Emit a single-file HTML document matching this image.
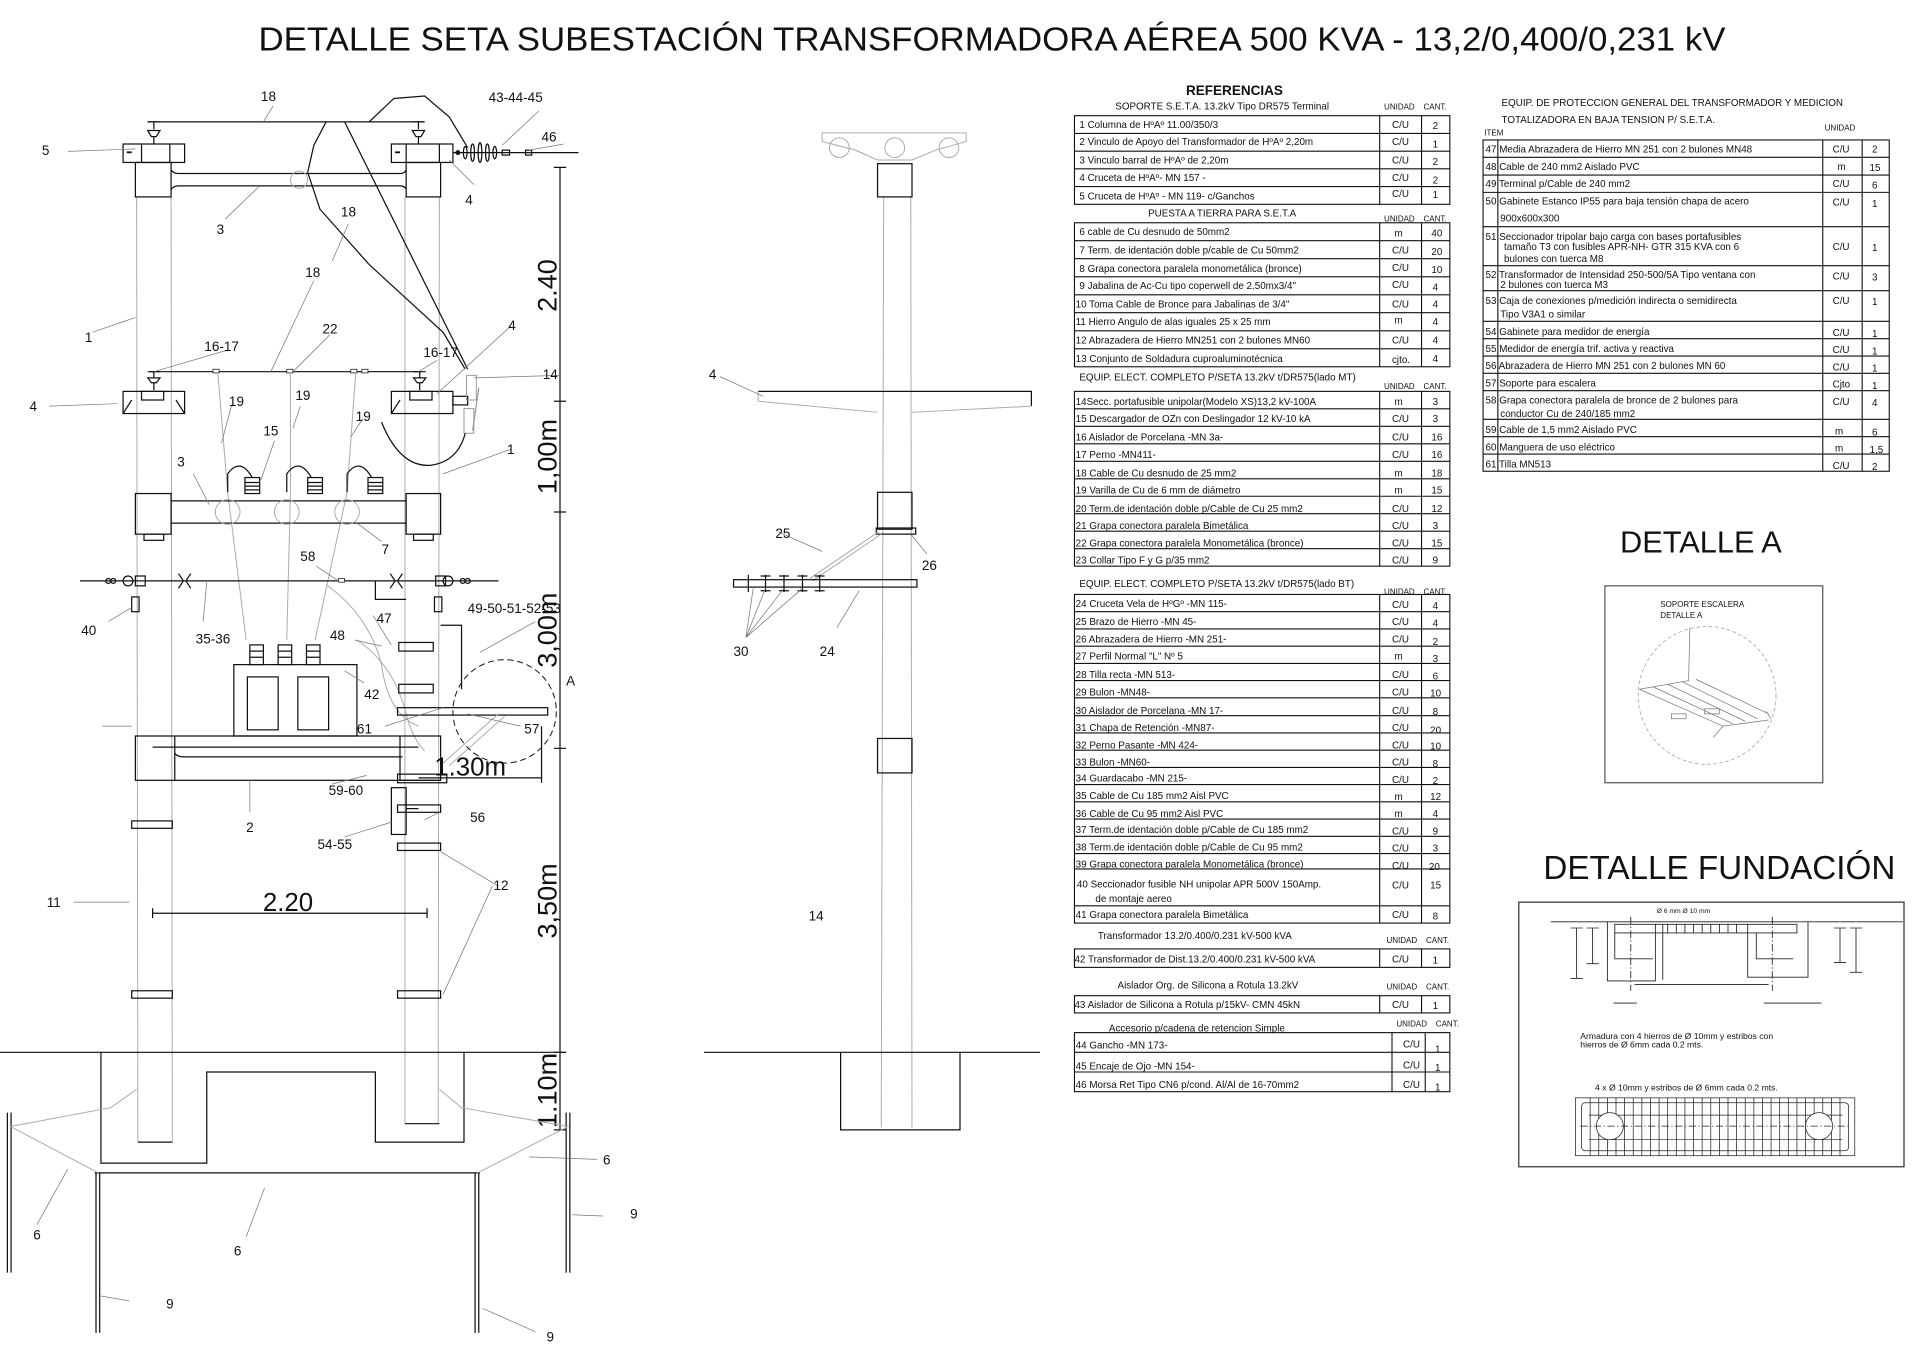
<!DOCTYPE html>
<html><head><meta charset="utf-8"><style>
html,body{margin:0;padding:0;background:#fff}
svg{display:block}
text{font-family:"Liberation Sans",Arial,sans-serif;fill:#111}
.t{font-size:8px}
.h{font-size:8px}
.u{font-size:6.5px}
.l{font-size:11px}
.ln{stroke:#111;fill:none;stroke-width:1}
.g{stroke:#aaa;fill:none;stroke-width:0.8}
.gl{stroke:#777;fill:none;stroke-width:0.6}
</style></head><body>
<svg width="1920" height="1360" viewBox="0 0 1560 1105" xmlns="http://www.w3.org/2000/svg">
<rect width="1560" height="1105" fill="#fff"/>
<text x="806" y="41" font-size="27" text-anchor="middle" textLength="1192" lengthAdjust="spacingAndGlyphs">DETALLE SETA SUBESTACIÓN TRANSFORMADORA AÉREA 500 KVA - 13,2/0,400/0,231 kV</text>

<!-- ============ LEFT FRONT VIEW ============ -->
<g>
<!-- poles -->
<path class="g" d="M111 160 L112 928 M139 160 L140 928 M329 160 L329 913 M357 160 L356 913"/>
<!-- top wire -->
<line class="ln" x1="120" y1="99" x2="345" y2="99"/>
<path class="ln" d="M300 99 L320 80 L345 78 L365 95 L380 120"/>
<path class="ln" d="M265 99 L255 118 L250 140 L260 170 L300 215 L360 270 L378 300"/>
<path class="ln" d="M280 99 L380 300"/>
<!-- top insulators -->
<g class="ln"><path d="M120 99 h10 M125 99 v6 M120 106 h10 l-3 5 h-4z M125 111 v6"/><path d="M335 99 h10 M340 99 v6 M335 106 h10 l-3 5 h-4z M340 111 v6"/></g>
<!-- cruceta 5 -->
<rect class="ln" x="100" y="117" width="50" height="15"/><line class="ln" x1="115" y1="117" x2="115" y2="132"/><line class="ln" x1="138" y1="117" x2="138" y2="132"/>
<rect class="ln" x="318" y="117" width="50" height="15"/><line class="ln" x1="330" y1="117" x2="330" y2="132"/><line class="ln" x1="357" y1="117" x2="357" y2="132"/>
<rect x="103" y="123" width="4" height="1.5" fill="#111"/><rect x="321" y="123" width="4" height="1.5" fill="#111"/>
<!-- pole heads + barral 3 -->
<rect class="ln" x="110" y="132" width="29" height="28"/><rect class="ln" x="330" y="132" width="28" height="28"/>
<path class="ln" d="M139 138 Q141 141 145 141 L325 141 Q329 141 330 138 M139 154 Q141 151 145 151 L325 151 Q329 151 330 154"/>
<circle class="g" cx="243" cy="146" r="7"/>
<!-- insulator string -->
<line class="ln" x1="368" y1="124" x2="470" y2="124"/>
<g class="ln"><ellipse cx="378" cy="124" rx="1.5" ry="5"/><ellipse cx="384" cy="124" rx="1.5" ry="7"/><ellipse cx="390" cy="124" rx="1.5" ry="8"/><ellipse cx="396" cy="124" rx="1.5" ry="7"/><ellipse cx="402" cy="124" rx="1.5" ry="5"/><rect x="408" y="122" width="6" height="4"/><rect x="427" y="122" width="5" height="4"/></g>
<circle cx="372" cy="124" r="2" fill="#111"/>
<!-- middle crucetas 4 -->
<line class="ln" x1="122" y1="302" x2="342" y2="302"/>
<g class="ln"><path d="M120 302 h10 M125 302 v5 M120 307 h10 l-3 4 h-4z M125 311 v6"/><path d="M336 302 h10 M341 302 v5 M336 307 h10 l-3 4 h-4z M341 311 v6"/></g>
<rect class="ln" x="100" y="318" width="50" height="18"/><path class="ln" d="M100 336 L107 325 M150 336 L143 325"/><rect class="ln" x="115" y="318" width="18" height="7"/>
<rect class="ln" x="318" y="318" width="50" height="18"/><path class="ln" d="M318 336 L325 325"/><rect class="ln" x="333" y="318" width="18" height="7"/>
<rect x="173" y="300" width="5" height="3" fill="#fff" stroke="#111" stroke-width="0.6"/><rect x="233" y="300" width="5" height="3" fill="#fff" stroke="#111" stroke-width="0.6"/><rect x="285" y="300" width="5" height="3" fill="#fff" stroke="#111" stroke-width="0.6"/><rect x="294" y="300" width="5" height="3" fill="#fff" stroke="#111" stroke-width="0.6"/>
<!-- seccionador 14 -->
<rect class="ln" x="368" y="322" width="12" height="7"/>
<rect x="379" y="305" width="8" height="20" fill="none" stroke="#999" stroke-width="0.8"/><rect x="377" y="332" width="8" height="20" fill="none" stroke="#999" stroke-width="0.8"/><line x1="389" y1="315" x2="384" y2="350" stroke="#999"/>
<path class="ln" d="M310 343 Q325 380 350 378 Q372 375 378 352"/>
<!-- 19 varillas -->
<path class="g" d="M177 303 L185 400 L200 520 M236 303 L236 400 L233 520 M289 303 L282 400 L256 520"/>
<!-- barral 3 lower -->
<rect class="ln" x="110" y="401" width="29" height="33"/><rect class="ln" x="330" y="401" width="28" height="33"/>
<rect class="ln" x="117" y="434" width="16" height="5"/><rect class="ln" x="336" y="434" width="16" height="5"/>
<path class="ln" d="M139 407 L330 407 M139 425 L330 425"/>
<circle class="g" cx="185" cy="416" r="10"/><circle class="g" cx="233" cy="416" r="10"/><circle class="g" cx="282" cy="416" r="10"/>
<!-- arresters 15 -->
<g class="ln"><path d="M185 400 v-15 q10 -14 20 3"/><rect x="199" y="388" width="12" height="13"/><path d="M199 392h12M199 395h12M199 398h12"/>
<path d="M233 400 v-15 q10 -14 20 3"/><rect x="250" y="388" width="12" height="13"/><path d="M250 392h12M250 395h12M250 398h12"/>
<path d="M282 400 v-15 q10 -14 20 3"/><rect x="299" y="388" width="12" height="13"/><path d="M299 392h12M299 395h12M299 398h12"/></g>
<!-- LV bus -->
<line class="ln" x1="65" y1="472" x2="405" y2="472"/>
<g class="ln"><circle cx="88" cy="472" r="2"/><circle cx="92" cy="472" r="2"/><circle cx="104" cy="472" r="4"/><rect x="110" y="468" width="8" height="8"/><path d="M145 466 l4 6 l-4 6 M155 466 l-4 6 l4 6"/>
<circle cx="380" cy="472" r="2"/><circle cx="376" cy="472" r="2"/><circle cx="364" cy="472" r="4"/><rect x="354" y="468" width="8" height="8"/><path d="M317 466 l4 6 l-4 6 M327 466 l-4 6 l4 6"/></g>
<rect x="275" y="470" width="5" height="3" fill="#fff" stroke="#111" stroke-width="0.6"/>
<rect class="ln" x="107" y="485" width="6" height="12"/><rect class="ln" x="353" y="485" width="6" height="12"/>
<path class="ln" d="M305 472 L305 487 L330 487"/>
<!-- cables 48 -->
<path class="g" d="M265 475 Q300 500 310 540 Q315 580 340 590 M290 520 Q320 540 330 580 Q335 600 345 610"/>
<!-- transformer -->
<g class="ln"><rect x="203" y="524" width="11" height="16"/><rect x="226" y="524" width="11" height="16"/><rect x="249" y="524" width="11" height="16"/>
<path d="M203 529h11M203 534h11M226 529h11M226 534h11M249 529h11M249 534h11"/>
<rect x="190" y="540" width="100" height="58"/><rect x="201" y="550" width="25" height="43"/><rect x="242" y="550" width="25" height="43"/></g>
<!-- gabinete 47-53 -->
<rect class="ln" x="324" y="522" width="28" height="7"/><rect class="ln" x="324" y="556" width="28" height="7"/>
<path class="ln" d="M358 508 L375 508 L375 560"/>
<!-- 57 support -->
<rect class="ln" x="323" y="575" width="122" height="6"/>
<path class="g" d="M360 620 L405 580 M365 622 L410 582"/>
<circle cx="410" cy="578" r="42" fill="none" stroke="#111" stroke-width="0.8" stroke-dasharray="5,3"/>
<text x="460" y="557" class="l" font-size="10">A</text>
<!-- platform 2 -->
<rect class="ln" x="110" y="598" width="248" height="36"/>
<path class="ln" d="M142 598 L142 634 M142 612 Q144 615 150 615 L327 615 M325 598 L325 634 L358 634"/>
<line class="ln" x1="124" y1="607" x2="340" y2="607"/>
<rect class="ln" x="323" y="629" width="40" height="7"/>
<!-- meter 54-55 -->
<rect class="ln" x="318" y="640" width="12" height="38"/><line class="ln" x1="330" y1="657" x2="340" y2="657"/>
<!-- clamps 12 -->
<g class="ln"><rect x="107" y="667" width="33" height="6"/><rect x="107" y="805" width="33" height="6"/><rect x="323" y="654" width="35" height="6"/><rect x="323" y="685" width="35" height="6"/><rect x="323" y="805" width="35" height="6"/></g>
<!-- 2.20 dim -->
<line class="ln" x1="124" y1="742" x2="347" y2="742"/><path class="ln" d="M124 738v8M347 738v8"/>
<text x="234" y="740" font-size="21" text-anchor="middle">2.20</text>
<!-- vertical dim -->
<line class="ln" x1="455" y1="136" x2="455" y2="918"/>
<path class="ln" d="M450 136h10M450 326h10M450 416h10M450 608h10M450 855h10M450 918h10"/>
<g font-size="22">
<text transform="translate(452,232) rotate(-90)" text-anchor="middle">2.40</text>
<text transform="translate(452,371) rotate(-90)" text-anchor="middle">1,00m</text>
<text transform="translate(452,512) rotate(-90)" text-anchor="middle">3,00m</text>
<text transform="translate(452,732) rotate(-90)" text-anchor="middle">3,50m</text>
<text transform="translate(452,886) rotate(-90)" text-anchor="middle">1.10m</text>
</g>
<line class="ln" x1="340" y1="632" x2="440" y2="632"/><line class="ln" x1="440" y1="590" x2="440" y2="636"/>
<text x="382" y="630" font-size="21" text-anchor="middle">1.30m</text>
<!-- ground -->
<line class="ln" x1="0" y1="855" x2="460" y2="855"/>
<path class="ln" d="M82 855 L82 945 L168 945 L168 871 L305 871 L305 928 L377 928 L377 855"/>
<path class="ln" d="M112 928 h28 M329 913 h28"/>
<line class="ln" x1="77" y1="953" x2="390" y2="953"/>
<g class="ln"><path d="M78 953 v130 M81 953 v130"/><path d="M386 953 v130 M389 953 v130"/><path d="M6 904 v130 M9 904 v130"/><path d="M460 904 v130 M463 904 v130"/></g>
<path class="g" d="M111 885 L90 900 L10 915 M8 915 L80 953 M357 885 L375 900 L460 915 M462 915 L388 953"/>
<!-- leaders -->
<g class="gl">
<path d="M222 86 L214 99 M55 123 L110 121 M183 178 L210 152 M283 182 L270 212 M255 228 L220 302 M268 272 L238 302 M183 285 L125 302 M355 293 L340 302 M415 265 L355 320 M40 330 L95 328 M455 305 L385 307 M188 330 L180 360 M244 330 L238 348 M295 340 L285 355 M223 358 L212 390 M75 270 L110 258 M415 365 L360 385 M157 385 L170 410 M310 440 L290 425 M257 460 L275 472 M438 90 L408 118 M458 117 L430 122 M385 150 L365 130 M88 505 L108 493 M165 505 L168 473 M288 520 L310 525 M303 500 L318 524 M435 505 L390 530 M296 555 L280 545 M83 590 L107 590 M423 590 L380 580 M313 590 L360 575 M203 660 L203 634 M270 637 L298 630 M345 666 L357 660 M280 680 L318 668 M400 720 L360 808 M405 720 L358 692 M60 733 L105 733 M30 995 L55 950 M200 1005 L215 965 M485 942 L430 940 M490 988 L465 987 M105 1057 L82 1053 M435 1082 L392 1063"/>
</g>
<g class="l" font-size="11">
<text x="212" y="82">18</text><text x="397" y="83">43-44-45</text><text x="440" y="115">46</text>
<text x="34" y="126">5</text><text x="176" y="190">3</text><text x="378" y="166">4</text><text x="277" y="176">18</text>
<text x="248" y="225">18</text><text x="69" y="278">1</text><text x="262" y="271">22</text><text x="166" y="285">16-17</text><text x="344" y="290">16-17</text>
<text x="413" y="268">4</text><text x="441" y="308">14</text><text x="24" y="334">4</text>
<text x="186" y="330">19</text><text x="240" y="325">19</text><text x="289" y="342">19</text><text x="214" y="354">15</text>
<text x="412" y="369">1</text><text x="144" y="379">3</text><text x="310" y="450">7</text><text x="244" y="456">58</text>
<text x="66" y="516">40</text><text x="159" y="523">35-36</text><text x="306" y="506">47</text><text x="268" y="520">48</text>
<text x="380" y="498">49-50-51-52-53</text><text x="296" y="568">42</text><text x="290" y="596">61</text><text x="426" y="596">57</text>
<text x="267" y="646">59-60</text><text x="382" y="668">56</text><text x="200" y="676">2</text><text x="258" y="690">54-55</text>
<text x="401" y="723">12</text><text x="38" y="737">11</text>
<text x="490" y="946">6</text><text x="512" y="990">9</text><text x="27" y="1007">6</text><text x="190" y="1020">6</text>
<text x="135" y="1063">9</text><text x="444" y="1090">9</text>
</g>
</g>

<!-- ============ MIDDLE SIDE VIEW ============ -->
<g>
<path class="g" d="M718 160 L716 916 M740 160 L741 916"/>
<path class="g" d="M668 108 L785 108 L785 115 L760 122 L741 130 L713 130 L695 122 L668 115 Z"/>
<circle class="g" cx="682" cy="120" r="8"/><circle class="g" cx="727" cy="120" r="8"/><circle class="g" cx="771" cy="120" r="8"/>
<rect class="ln" x="713" y="133" width="28" height="27"/>
<path class="ln" d="M616 318 L838 318 L838 330"/><path class="g" d="M616 318 L616 326 L713 335 M741 335 L838 330"/>
<rect class="ln" x="713" y="400" width="28" height="30"/>
<rect class="ln" x="712" y="429" width="32" height="5"/>
<path class="g" d="M658 470 L714 432 M660 472 L716 434"/>
<rect class="ln" x="596" y="471" width="149" height="6"/>
<g class="ln"><path d="M608 467 v14 M622 467 v14 M637 467 v14 M652 467 v14 M666 467 v14"/><path d="M618 468 h8 M618 480 h8 M633 468 h8 M633 480 h8 M648 468 h8 M648 480 h8 M662 468 h8 M662 480 h8"/></g>
<rect class="ln" x="713" y="600" width="28" height="28"/>
<line class="ln" x1="572" y1="855" x2="845" y2="855"/>
<path class="ln" d="M683 855 L683 918 L780 918 L780 855"/>
<g class="gl"><path d="M585 306 L620 322 M632 432 L668 448 M753 450 L740 434 M680 510 L698 480 M606 518 L612 478 M606 518 L622 478 M606 518 L637 478 M606 518 L652 478"/></g>
<g class="l"><text x="576" y="308">4</text><text x="630" y="437">25</text><text x="749" y="463">26</text><text x="596" y="533">30</text><text x="666" y="533">24</text><text x="657" y="748">14</text></g>
</g>

<!-- ============ TABLE 1 ============ -->
<g>
<text x="1003" y="77" font-family="Liberation Serif" font-size="11" text-anchor="middle" font-weight="bold" fill="#444">REFERENCIAS</text>
<text x="993" y="89" class="h" text-anchor="middle">SOPORTE S.E.T.A. 13.2kV Tipo DR575 Terminal</text>
<text x="1137" y="89" class="u" text-anchor="middle">UNIDAD</text><text x="1166" y="89" class="u" text-anchor="middle">CANT.</text>
<!-- rows generated manually -->
<g stroke="#111" stroke-width="0.9" fill="none">
<rect x="873" y="94" width="305" height="72"/><path d="M1121 94V166M1155 94V166M873 108.4H1178M873 122.8H1178M873 137.2H1178M873 151.6H1178"/>
<rect x="873" y="181" width="305" height="117"/><path d="M1121 181V298M1155 181V298M873 195.6H1178M873 210.2H1178M873 224.9H1178M873 239.5H1178M873 254.1H1178M873 268.8H1178M873 283.4H1178"/>
<rect x="873" y="318" width="305" height="142"/><path d="M1121 318V460M1155 318V460M873 332.2H1178M873 346.4H1178M873 360.6H1178M873 374.8H1178M873 389H1178M873 403.2H1178M873 417.4H1178M873 431.6H1178M873 445.8H1178"/>
<rect x="873" y="483" width="305" height="267"/><path d="M1121 483V750M1155 483V750"/>
<rect x="873" y="771" width="305" height="15"/><path d="M1121 771V786M1155 771V786"/>
<rect x="873" y="809" width="305" height="14"/><path d="M1121 809V823M1155 809V823"/>
<rect x="873" y="839" width="305" height="48"/><path d="M1131 839V887M1158 839V887M873 855H1178M873 871H1178"/>
</g>
<g class="t">
<text x="877" y="104">1  Columna de HºAº 11.00/350/3</text><text x="877" y="118">2  Vinculo de Apoyo del Transformador de HºAº 2,20m</text><text x="877" y="133">3  Vinculo barral de HºAº de 2,20m</text><text x="877" y="147">4  Cruceta de HºAº- MN 157 -</text><text x="877" y="162">5  Cruceta de HºAº - MN 119- c/Ganchos</text>
<text x="1131" y="104">C/U</text><text x="1131" y="118">C/U</text><text x="1131" y="133">C/U</text><text x="1131" y="147">C/U</text><text x="1131" y="160">C/U</text>
<text x="1164" y="105">2</text><text x="1164" y="120">1</text><text x="1164" y="134">2</text><text x="1164" y="149">2</text><text x="1164" y="161">1</text>
<text x="993" y="176" text-anchor="middle">PUESTA A TIERRA PARA S.E.T.A</text><text x="1137" y="180" class="u" text-anchor="middle">UNIDAD</text><text x="1166" y="180" class="u" text-anchor="middle">CANT.</text>
<text x="877" y="191">6   cable de Cu desnudo de 50mm2</text><text x="877" y="206">7  Term. de identación doble p/cable de Cu 50mm2</text><text x="877" y="221">8  Grapa conectora paralela monometálica (bronce)</text><text x="877" y="235">9  Jabalina de Ac-Cu tipo coperwell de 2.50mx3/4"</text><text x="874" y="250">10  Toma Cable de Bronce para Jabalinas de 3/4"</text><text x="874" y="264">11  Hierro Angulo de alas iguales 25 x 25 mm</text><text x="874" y="279">12  Abrazadera de Hierro MN251 con 2 bulones MN60</text><text x="874" y="294">13  Conjunto de Soldadura cuproaluminotécnica</text>
<text x="1133" y="192">m</text><text x="1131" y="206">C/U</text><text x="1131" y="220">C/U</text><text x="1131" y="234">C/U</text><text x="1131" y="250">C/U</text><text x="1133" y="263">m</text><text x="1131" y="279">C/U</text><text x="1131" y="295">cjto.</text>
<text x="1163" y="192">40</text><text x="1163" y="207">20</text><text x="1163" y="222">10</text><text x="1164" y="236">4</text><text x="1164" y="250">4</text><text x="1164" y="264">4</text><text x="1164" y="279">4</text><text x="1164" y="294">4</text>
<text x="877" y="309">EQUIP. ELECT. COMPLETO P/SETA 13.2kV t/DR575(lado MT)</text><text x="1137" y="316" class="u" text-anchor="middle">UNIDAD</text><text x="1166" y="316" class="u" text-anchor="middle">CANT.</text>
<text x="874" y="329">14Secc. portafusible unipolar(Modelo XS)13,2 kV-100A</text><text x="874" y="343">15  Descargador de OZn con Deslingador 12 kV-10 kA</text><text x="874" y="358">16   Aislador de Porcelana -MN 3a-</text><text x="874" y="372">17  Perno -MN411-</text><text x="874" y="387">18   Cable de Cu desnudo de 25 mm2</text><text x="874" y="401">19   Varilla de Cu de 6 mm de diámetro</text><text x="874" y="416">20  Term.de identación doble p/Cable de Cu 25 mm2</text><text x="874" y="430">21  Grapa conectora paralela Bimetálica</text><text x="874" y="444">22  Grapa conectora paralela Monometálica (bronce)</text><text x="874" y="458">23  Collar Tipo F y G p/35 mm2</text>
<text x="1133" y="329">m</text><text x="1131" y="343">C/U</text><text x="1131" y="358">C/U</text><text x="1131" y="372">C/U</text><text x="1133" y="387">m</text><text x="1133" y="401">m</text><text x="1131" y="416">C/U</text><text x="1131" y="430">C/U</text><text x="1131" y="444">C/U</text><text x="1131" y="458">C/U</text>
<text x="1164" y="329">3</text><text x="1164" y="343">3</text><text x="1163" y="358">16</text><text x="1163" y="372">16</text><text x="1163" y="387">18</text><text x="1163" y="401">15</text><text x="1163" y="416">12</text><text x="1164" y="430">3</text><text x="1163" y="444">15</text><text x="1164" y="458">9</text>
<text x="877" y="477">EQUIP. ELECT. COMPLETO P/SETA 13.2kV t/DR575(lado BT)</text><text x="1137" y="483" class="u" text-anchor="middle">UNIDAD</text><text x="1166" y="483" class="u" text-anchor="middle">CANT.</text>
</g>
<g stroke="#111" stroke-width="0.9"><path d="M873 497H1178M873 511H1178M873 525H1178M873 539H1178M873 553H1178M873 567H1178M873 581.5H1178M873 595.5H1178M873 609.5H1178M873 623.5H1178M873 637.5H1178M873 651.5H1178M873 665.5H1178M873 679.5H1178M873 693.5H1178M873 706H1178M873 736H1178"/></g>
<g class="t">
<text x="874" y="493">24   Cruceta Vela de HºGº -MN 115-</text><text x="874" y="508">25   Brazo de Hierro -MN 45-</text><text x="874" y="522">26   Abrazadera de Hierro -MN 251-</text><text x="874" y="536">27   Perfil Normal "L" Nº 5</text><text x="874" y="565">29   Bulon -MN48-</text><text x="874" y="551">28   Tilla recta -MN 513-</text><text x="874" y="580">30 Aislador de Porcelana -MN 17-</text><text x="874" y="594">31  Chapa de Retención -MN87-</text><text x="874" y="608">32  Perno Pasante -MN 424-</text><text x="874" y="622">33  Bulon -MN60-</text><text x="874" y="635">34  Guardacabo -MN 215-</text><text x="874" y="649">35  Cable de Cu 185 mm2 Aisl PVC</text><text x="874" y="664">36  Cable de Cu 95 mm2 Aisl PVC</text><text x="874" y="677">37  Term.de identación doble p/Cable de Cu 185 mm2</text><text x="874" y="691">38  Term.de identación doble p/Cable de Cu 95 mm2</text><text x="874" y="705">39   Grapa conectora paralela Monometálica (bronce)</text><text x="875" y="721">40   Seccionador fusible NH unipolar APR 500V 150Amp.</text><text x="890" y="733">de montaje aereo</text><text x="874" y="746">41  Grapa conectora paralela Bimetálica</text>
<text x="1131" y="494">C/U</text><text x="1131" y="508">C/U</text><text x="1131" y="522">C/U</text><text x="1133" y="536">m</text><text x="1131" y="551">C/U</text><text x="1131" y="565">C/U</text><text x="1131" y="580">C/U</text><text x="1131" y="594">C/U</text><text x="1131" y="608">C/U</text><text x="1131" y="622">C/U</text><text x="1131" y="636">C/U</text><text x="1133" y="650">m</text><text x="1133" y="664">m</text><text x="1131" y="678">C/U</text><text x="1131" y="692">C/U</text><text x="1131" y="706">C/U</text><text x="1131" y="722">C/U</text><text x="1131" y="746">C/U</text>
<text x="1164" y="495">4</text><text x="1164" y="509">4</text><text x="1164" y="524">2</text><text x="1164" y="538">3</text><text x="1164" y="552">6</text><text x="1162" y="566">10</text><text x="1164" y="581">8</text><text x="1162" y="596">20</text><text x="1162" y="609">10</text><text x="1164" y="623">8</text><text x="1164" y="637">2</text><text x="1162" y="650">12</text><text x="1164" y="664">4</text><text x="1164" y="678">9</text><text x="1164" y="692">3</text><text x="1161" y="707">20</text><text x="1162" y="722">15</text><text x="1164" y="747">8</text>
<text x="892" y="763">Transformador 13.2/0.400/0.231 kV-500 kVA</text><text x="1139" y="766" class="u" text-anchor="middle">UNIDAD</text><text x="1168" y="766" class="u" text-anchor="middle">CANT.</text>
<text x="873" y="782">42 Transformador de Dist.13.2/0.400/0.231 kV-500 kVA</text><text x="1131" y="782">C/U</text><text x="1164" y="783">1</text>
<text x="908" y="803">Aislador Org. de Silicona a Rotula 13.2kV</text><text x="1139" y="804" class="u" text-anchor="middle">UNIDAD</text><text x="1168" y="804" class="u" text-anchor="middle">CANT.</text>
<text x="873" y="819">43 Aislador de Silicona a Rotula p/15kV- CMN 45kN</text><text x="1131" y="819">C/U</text><text x="1164" y="820">1</text>
<text x="901" y="838">Accesorio p/cadena de retencion Simple</text><text x="1147" y="834" class="u" text-anchor="middle">UNIDAD</text><text x="1176" y="834" class="u" text-anchor="middle">CANT.</text>
<text x="874" y="852">44 Gancho -MN 173-</text><text x="874" y="869">45 Encaje de Ojo -MN 154-</text><text x="874" y="884">46 Morsa Ret Tipo CN6 p/cond. Al/Al de 16-70mm2</text>
<text x="1140" y="851">C/U</text><text x="1140" y="868">C/U</text><text x="1140" y="884">C/U</text><text x="1166" y="855">1</text><text x="1166" y="870">1</text><text x="1166" y="886">1</text>
</g>
</g>

<!-- ============ TABLE 2 ============ -->
<g>
<g class="t"><text x="1220" y="86">EQUIP. DE PROTECCION GENERAL DEL TRANSFORMADOR Y MEDICION</text><text x="1220" y="100">TOTALIZADORA EN BAJA TENSION P/ S.E.T.A.</text></g>
<text x="1206" y="110" class="u">ITEM</text><text x="1495" y="106" class="u" text-anchor="middle">UNIDAD</text>
<g stroke="#111" stroke-width="0.9" fill="none">
<rect x="1205" y="113.7" width="330" height="269.2"/>
<path d="M1217 113.7V382.9M1481 113.7V382.9M1513 113.7V382.9"/>
<path d="M1205 127.8H1535M1205 142.2H1535M1205 156.3H1535M1205 184.2H1535M1205 215.9H1535M1205 236.2H1535M1205 261.1H1535M1205 275.2H1535M1205 289.3H1535M1205 303.3H1535M1205 317.4H1535M1205 340.7H1535M1205 354.8H1535M1205 368.9H1535"/>
</g>
<g class="t">
<text x="1207" y="124">47  Media Abrazadera de Hierro MN 251 con 2 bulones MN48</text><text x="1207" y="138">48 Cable de 240 mm2 Aislado PVC</text><text x="1207" y="152">49 Terminal p/Cable de 240 mm2</text><text x="1207" y="166">50 Gabinete Estanco IP55 para baja tensión chapa de acero</text><text x="1219" y="180">900x600x300</text>
<text x="1207" y="195">51  Seccionador tripolar bajo carga con bases portafusibles</text><text x="1222" y="203">tamaño T3 con fusibles APR-NH- GTR 315 KVA con 6</text><text x="1222" y="213">bulones con tuerca M8</text>
<text x="1207" y="226">52 Transformador de Intensidad 250-500/5A Tipo ventana con</text><text x="1219" y="234">2 bulones con tuerca M3</text>
<text x="1207" y="247">53 Caja de conexiones p/medición indirecta o semidirecta</text><text x="1219" y="258">Tipo V3A1 o similar</text>
<text x="1207" y="272">54 Gabinete para medidor de energía</text><text x="1207" y="286">55 Medidor de energía trif. activa y reactiva</text><text x="1207" y="300">56 Abrazadera de Hierro MN 251 con 2 bulones MN 60</text><text x="1207" y="314">57 Soporte para escalera</text><text x="1207" y="328">58 Grapa conectora paralela de bronce de 2 bulones para</text><text x="1219" y="339">conductor Cu de 240/185 mm2</text>
<text x="1207" y="352">59 Cable de 1,5 mm2 Aislado PVC</text><text x="1207" y="366">60 Manguera de uso eléctrico</text><text x="1207" y="380">61 Tilla MN513</text>
<text x="1489" y="124">C/U</text><text x="1493" y="138">m</text><text x="1489" y="152">C/U</text><text x="1489" y="167">C/U</text><text x="1489" y="203">C/U</text><text x="1489" y="227">C/U</text><text x="1489" y="247">C/U</text><text x="1489" y="273">C/U</text><text x="1489" y="287">C/U</text><text x="1489" y="301">C/U</text><text x="1489" y="315">Cjto</text><text x="1489" y="329">C/U</text><text x="1491" y="353">m</text><text x="1491" y="367">m</text><text x="1489" y="381">C/U</text>
<text x="1521" y="124">2</text><text x="1519" y="139">15</text><text x="1521" y="153">6</text><text x="1521" y="168">1</text><text x="1521" y="204">1</text><text x="1521" y="228">3</text><text x="1521" y="248">1</text><text x="1521" y="274">1</text><text x="1521" y="288">1</text><text x="1521" y="302">1</text><text x="1521" y="316">1</text><text x="1521" y="330">4</text><text x="1521" y="354">6</text><text x="1519" y="368">1,5</text><text x="1521" y="382">2</text>
</g>
</g>

<!-- ============ DETALLE A ============ -->
<text x="1382" y="449" font-size="25" text-anchor="middle">DETALLE A</text>
<rect x="1304" y="476" width="177" height="160" fill="none" stroke="#444" stroke-width="0.9"/>
<text x="1349" y="493" font-size="6.5">SOPORTE ESCALERA</text><text x="1349" y="502" font-size="6.5">DETALLE A</text>
<circle cx="1387" cy="565" r="56" fill="none" stroke="#aaa" stroke-width="0.7" stroke-dasharray="3,2"/>
<g stroke="#777" stroke-width="0.6" fill="none"><path d="M1332 560 L1372 553 L1373 510 M1332 560 L1400 590 L1437 585 M1343 558 L1408 588 M1355 556 L1418 586 M1367 554 L1428 584 M1378 552 L1437 580 M1358 580 h12 v4 h-12z M1385 576 h12 v4 h-12z M1392 599 L1400 590 M1435 578 l4 6"/></g>

<!-- ============ DETALLE FUNDACION ============ -->
<text x="1397" y="714" font-size="27" text-anchor="middle">DETALLE FUNDACIÓN</text>
<rect x="1234" y="733" width="313" height="215" fill="none" stroke="#333" stroke-width="1"/>
<g stroke="#222" stroke-width="0.7" fill="none">
<line x1="1260" y1="749" x2="1546" y2="749"/>
<rect x="1312" y="751" width="148" height="7"/>
<path d="M1345 751 V797 H1306 V749 M1351 751 V796 M1312 758 V779 H1343 M1420 751 V794 H1469 V749 M1427 758 V779 H1457"/>
<path d="M1355 751v7M1362 751v7M1369 751v7M1376 751v7M1383 751v7M1390 751v7M1397 751v7M1404 751v7M1411 751v7"/>
<path d="M1325 745 V805 M1440 745 V805" stroke-dasharray="6,2,1,2"/>
<path d="M1281 754 V795 M1276 754h10M1276 795h10 M1294 754 V783 M1289 754h10M1289 783h10 M1495 754 V782 M1490 754h10M1490 782h10 M1508 754 V790 M1503 754h10M1503 790h10"/>
<path d="M1328 800 H1437 M1311 815 H1330 M1433 815 H1480"/>
</g>
<g font-family="Liberation Mono" font-size="5.5">
<text x="1346" y="742">Ø 6 mm  Ø 10 mm</text>
<text x="1284" y="844" font-size="7">Armadura con 4 hierros de Ø 10mm y estribos con</text>
<text x="1284" y="851" font-size="7">hierros de Ø 6mm cada 0.2 mts.</text>
<text x="1296" y="886" font-size="7">4 x Ø 10mm y estribos de Ø 6mm cada 0.2 mts.</text>
</g>
<g stroke="#222" stroke-width="0.6" fill="none">
<rect x="1280" y="892" width="227" height="47"/>
<rect x="1285" y="896" width="217" height="39" rx="3"/>
<path d="M1291 906 H1497 M1291 926 H1497"/>
<path d="M1292 892v47M1299 892v47M1306 892v47M1313 892v47M1320 892v47M1327 892v47M1334 892v47M1341 892v47M1348 892v47M1355 892v47M1362 892v47M1369 892v47M1376 892v47M1383 892v47M1390 892v47M1397 892v47M1404 892v47M1411 892v47M1418 892v47M1425 892v47M1432 892v47M1439 892v47M1446 892v47M1453 892v47M1460 892v47M1467 892v47M1474 892v47M1481 892v47M1488 892v47M1495 892v47"/>
<circle cx="1308" cy="915" r="11" fill="#fff"/><circle cx="1478" cy="915" r="11" fill="#fff"/>
<line x1="1284" y1="915" x2="1503" y2="915" stroke-dasharray="6,2,1,2"/>
</g>
</svg>
</body></html>
